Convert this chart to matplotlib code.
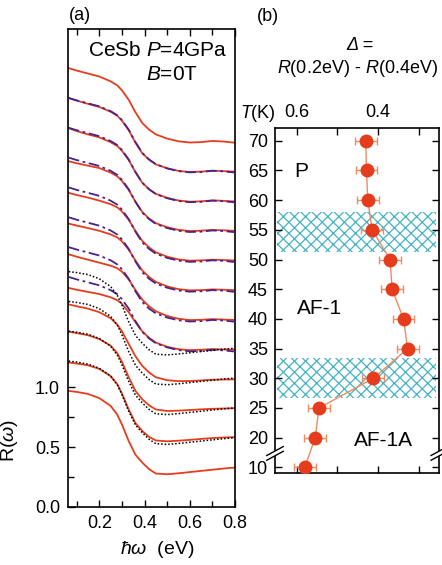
import numpy as np
import matplotlib
matplotlib.use('Agg')
import matplotlib.pyplot as plt
import matplotlib.transforms as mtransforms
from matplotlib.ticker import FormatStrFormatter

plt.rcParams['font.family'] = 'Liberation Sans'
plt.rcParams['mathtext.fontset'] = 'custom'
plt.rcParams['mathtext.rm'] = 'Liberation Sans'
plt.rcParams['mathtext.it'] = 'Liberation Sans:italic'
plt.rcParams['hatch.linewidth'] = 0.9

# ---- panel (a): R(w) spectra (offset 0.25 each) ----
energy = [0.065, 0.10, 0.15, 0.20, 0.25, 0.28, 0.30, 0.33, 0.36, 0.39,
          0.42, 0.45, 0.50, 0.55, 0.60, 0.65, 0.70, 0.75, 0.80]

r70 = [0.925, 0.905, 0.880, 0.855, 0.815, 0.780, 0.740, 0.660, 0.555, 0.465,
       0.410, 0.370, 0.335, 0.312, 0.302, 0.305, 0.315, 0.310, 0.300]
r65 = [0.925, 0.903, 0.876, 0.850, 0.810, 0.775, 0.735, 0.655, 0.550, 0.462,
       0.408, 0.369, 0.336, 0.314, 0.305, 0.308, 0.316, 0.312, 0.308]
r60 = [0.922, 0.898, 0.870, 0.845, 0.805, 0.772, 0.733, 0.655, 0.552, 0.465,
       0.410, 0.372, 0.338, 0.316, 0.306, 0.309, 0.317, 0.313, 0.308]
r55 = [0.895, 0.878, 0.858, 0.838, 0.800, 0.768, 0.730, 0.655, 0.555, 0.470,
       0.415, 0.376, 0.342, 0.320, 0.310, 0.313, 0.320, 0.316, 0.312]
r50 = [0.880, 0.862, 0.840, 0.815, 0.785, 0.758, 0.725, 0.655, 0.560, 0.478,
       0.423, 0.382, 0.345, 0.322, 0.312, 0.314, 0.320, 0.317, 0.313]
r45 = [0.872, 0.856, 0.835, 0.812, 0.782, 0.756, 0.724, 0.655, 0.562, 0.480,
       0.425, 0.384, 0.346, 0.323, 0.313, 0.315, 0.321, 0.318, 0.314]
r40 = [0.865, 0.845, 0.820, 0.795, 0.770, 0.748, 0.720, 0.655, 0.565, 0.485,
       0.430, 0.388, 0.348, 0.325, 0.314, 0.316, 0.322, 0.318, 0.315]
r35 = [0.833, 0.818, 0.800, 0.782, 0.755, 0.730, 0.700, 0.630, 0.545, 0.470,
       0.415, 0.375, 0.340, 0.320, 0.312, 0.315, 0.321, 0.318, 0.316]
r30 = [0.945, 0.930, 0.910, 0.880, 0.830, 0.775, 0.720, 0.615, 0.510, 0.430,
       0.375, 0.335, 0.310, 0.302, 0.303, 0.308, 0.314, 0.316, 0.317]
r25 = [0.967, 0.955, 0.937, 0.905, 0.850, 0.785, 0.715, 0.585, 0.470, 0.400,
       0.350, 0.315, 0.302, 0.305, 0.310, 0.316, 0.320, 0.323, 0.325]
r20 = [0.958, 0.950, 0.935, 0.905, 0.845, 0.775, 0.700, 0.565, 0.450, 0.385,
       0.335, 0.305, 0.298, 0.303, 0.310, 0.318, 0.325, 0.330, 0.333]
r10 = [0.970, 0.962, 0.945, 0.910, 0.845, 0.770, 0.690, 0.550, 0.435, 0.370,
       0.315, 0.278, 0.272, 0.280, 0.290, 0.300, 0.310, 0.320, 0.328]

spec_temps = [70, 65, 60, 55, 50, 45, 40, 35, 30, 25, 20, 10]
spectra = [r70, r65, r60, r55, r50, r45, r40, r35, r30, r25, r20, r10]
dashdot_on = [65, 60, 55, 50, 45, 40, 35]   # 70 K curve shifted onto these
dotted_on = [35, 30, 25, 20]                 # 10 K curve shifted onto these

# ---- panel (b): Delta = R(0.2eV) - R(0.4eV) ----
T = [70, 65, 60, 55, 50, 45, 40, 35, 30, 25, 20, 10]
delta = [0.430, 0.428, 0.425, 0.414, 0.370, 0.365, 0.337, 0.327, 0.411, 0.545, 0.554, 0.580]
delta_err = [0.027] * len(T)
bands = [(51.3, 58.0), (26.7, 33.4)]
T_ticks = [10, 20, 25, 30, 35, 40, 45, 50, 55, 60, 65, 70]

red = '#e63c1e'
purple = '#48238c'
salmon = '#ef8a60'
teal = '#45b3c2'

fig = plt.figure(figsize=(4.42, 5.65), dpi=100)
axa = fig.add_axes([0.1545, 0.1032, 0.3772, 0.8448])
axb = fig.add_axes([0.6222, 0.1623, 0.3717, 0.6106])

n = len(spec_temps)
offs = {t: 0.25 * (n - 1 - i) for i, t in enumerate(spec_temps)}
for t, r in zip(spec_temps, spectra):
    axa.plot(energy, np.array(r) + offs[t], color=red, lw=1.3, zorder=2)
for t in dashdot_on:
    axa.plot(energy, np.array(r70) + offs[t], color=purple, lw=1.3,
             ls=(0, (6, 2, 1.5, 2)), zorder=3)
for t in dotted_on:
    axa.plot(energy, np.array(r10) + offs[t], color='k', lw=1.1,
             ls=(0, (1, 1.3)), zorder=3)

axa.set_xlim(0.063, 0.8)
axa.set_ylim(0, 4.0)
axa.set_xticks([0.2, 0.4, 0.6, 0.8])
axa.set_xticks([0.1, 0.3, 0.5, 0.7], minor=True)
axa.set_yticks([0.0, 0.5, 1.0])
axa.set_yticks([0.25, 0.75], minor=True)
axa.yaxis.set_major_formatter(FormatStrFormatter('%.1f'))
axa.tick_params(which='both', direction='in', top=True, right=False,
                labelsize=13, width=1)
axa.tick_params(which='major', length=5, pad=6)
axa.tick_params(which='minor', length=4)
for s in axa.spines.values():
    s.set_linewidth(1.2)
axa.set_xlabel(r'$\hbar\omega$  (eV)', fontsize=14)
axa.xaxis.set_label_coords(0.532, -0.068)
axa.set_ylabel(r'R($\omega$)', fontsize=14)
axa.yaxis.set_label_coords(-0.29, 0.138)

fig.text(80 / 442, 1 - 15 / 565, '(a)', fontsize=13, ha='center', va='center')
fig.text(158 / 442, 1 - 50 / 565, 'CeSb $P$=4GPa', fontsize=15, ha='center', va='center')
fig.text(172 / 442, 1 - 75 / 565, '$B$=0T', fontsize=15, ha='center', va='center')

# panel (b)
ypos = [t if t >= 20 else t + 5 for t in T]   # broken axis: 10 K drawn at 15
for lo, hi in bands:
    axb.axhspan(lo, hi, xmin=0.012, xmax=0.982, facecolor='none',
                edgecolor=teal, hatch='xxx', lw=0, zorder=1)
axb.errorbar(delta, ypos, xerr=delta_err, fmt='-o', color=salmon, lw=1,
             mfc=red, mec=red, ms=9, ecolor=salmon, elinewidth=1,
             capsize=3, capthick=1, zorder=3)

axb.set_xlim(0.653, 0.249)
axb.set_ylim(14.0, 72.1)
axb.set_xticks([0.6, 0.4])
axb.set_xticks([0.5, 0.3], minor=True)
axb.set_yticks([t if t >= 20 else t + 5 for t in T_ticks])
axb.set_yticklabels([str(t) for t in T_ticks])
axb.xaxis.set_major_formatter(FormatStrFormatter('%.1f'))
axb.tick_params(which='both', direction='in', top=True, bottom=True,
                left=True, right=True, labeltop=True, labelbottom=False,
                labelsize=13, width=1)
axb.tick_params(which='major', length=5, pad=5)
axb.tick_params(which='minor', length=5)
for s in axb.spines.values():
    s.set_linewidth(1.2)

axb.text(0.589, 64.9, 'P', fontsize=15, ha='center', va='center')
axb.text(0.543, 41.7, 'AF-1', fontsize=15, ha='center', va='center')
axb.text(0.387, 19.6, 'AF-1A', fontsize=15, ha='center', va='center')

# axis break marks between 20 and 10
blend = mtransforms.blended_transform_factory(axb.transAxes, axb.transData)
for xa in (0.0, 1.0):
    gap = plt.Polygon([(xa - 0.05, 16.2), (xa + 0.05, 17.7), (xa + 0.05, 18.5),
                       (xa - 0.05, 17.0)], closed=True, transform=blend,
                      facecolor='white', edgecolor='none', clip_on=False, zorder=5)
    axb.add_patch(gap)
    for y0 in (16.2, 17.0):
        axb.plot([xa - 0.05, xa + 0.05], [y0, y0 + 1.5], color='k', lw=1,
                 transform=blend, clip_on=False, zorder=6)

fig.text(268 / 442, 1 - 16.5 / 565, '(b)', fontsize=13, ha='center', va='center')
fig.text(360 / 442, 1 - 46 / 565, 'Δ =', fontsize=13, fontstyle='italic',
         ha='center', va='center')
fig.text(357 / 442, 1 - 68.5 / 565, '$R$(0.2eV) - $R$(0.4eV)', fontsize=13,
         ha='center', va='center')
fig.text(258 / 442, 1 - 113 / 565, '$T$(K)', fontsize=13, ha='center', va='center')

fig.savefig('out.png', dpi=100)
